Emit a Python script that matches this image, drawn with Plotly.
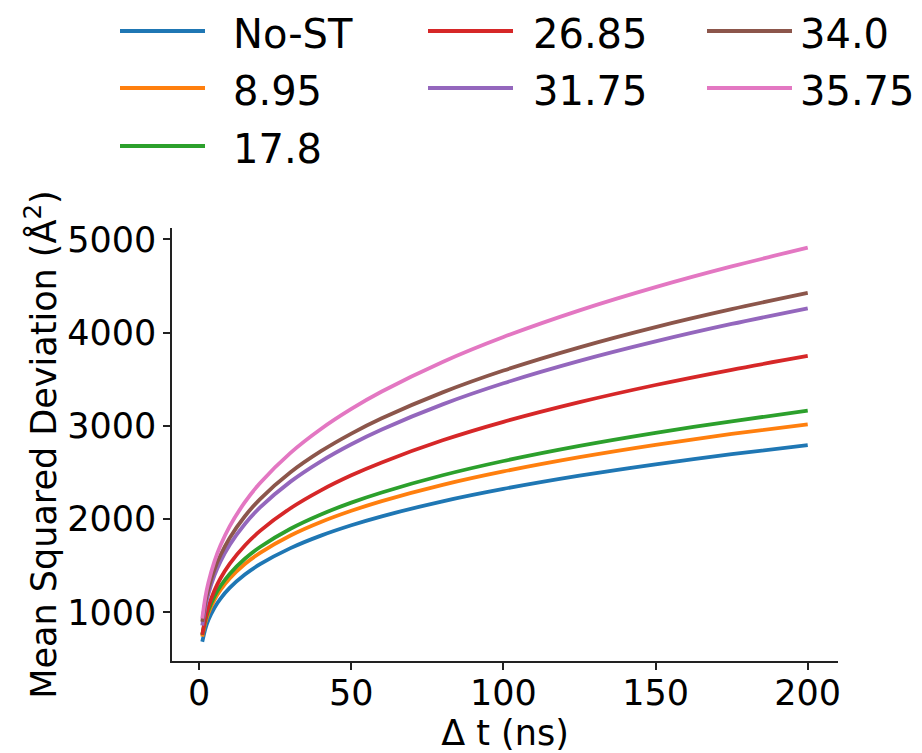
import plotly.graph_objects as go

dt_ns = [1, 2, 3, 5, 7, 10, 15, 20, 30, 40, 50, 60, 80, 100, 125, 150, 175, 200]

msd_no_st = [685, 823, 917, 1050, 1148, 1262, 1405, 1517, 1689, 1823, 1934, 2030, 2191, 2324, 2466, 2588, 2696, 2794]
msd_8_95 = [740, 889, 990, 1134, 1240, 1363, 1518, 1638, 1824, 1969, 2089, 2193, 2367, 2511, 2664, 2796, 2913, 3016]
msd_17_8 = [760, 916, 1021, 1172, 1283, 1412, 1575, 1701, 1897, 2050, 2177, 2286, 2470, 2623, 2785, 2925, 3049, 3162]
msd_26_85 = [760, 936, 1058, 1234, 1366, 1521, 1718, 1874, 2117, 2309, 2470, 2608, 2845, 3043, 3254, 3438, 3601, 3749]
msd_31_75 = [860, 1060, 1198, 1398, 1548, 1724, 1948, 2125, 2402, 2620, 2803, 2961, 3230, 3456, 3696, 3905, 4092, 4260]
msd_34_0 = [900, 1109, 1252, 1460, 1615, 1798, 2031, 2215, 2502, 2728, 2917, 3081, 3359, 3593, 3842, 4059, 4251, 4425]
msd_35_75 = [935, 1162, 1319, 1547, 1719, 1922, 2182, 2388, 2711, 2967, 3182, 3368, 3685, 3952, 4238, 4487, 4709, 4910]

series_names = ["No-ST", "8.95", "17.8", "26.85", "31.75", "34.0", "35.75"]
series_values = [msd_no_st, msd_8_95, msd_17_8, msd_26_85, msd_31_75, msd_34_0, msd_35_75]
colors = ["#1f77b4", "#ff7f0e", "#2ca02c", "#d62728", "#9467bd", "#8c564b", "#e377c2"]
# (column, row) of each entry in the 3-column legend
legend_slots = [(0, 0), (0, 1), (0, 2), (1, 0), (1, 1), (2, 0), (2, 1)]

x_ticks = [0, 50, 100, 150, 200]
y_ticks = [1000, 2000, 3000, 4000, 5000]

FONT = "DejaVu Sans"
OFF = 8  # the page body adds an 8px margin; positions below are page pixels
W, H = 922 - OFF, 753 - OFF
ML, MR, MT, MB = 172 - OFF, 84, 228 - OFF, 92
PW, PH = W - ML - MR, H - MT - MB


def px_x(px):
    return (px - OFF - ML) / PW


def px_y(py):
    return (H - MB - (py - OFF)) / PH


fig = go.Figure()
for name, vals, col in zip(series_names, series_values, colors):
    fig.add_trace(go.Scatter(
        x=dt_ns, y=vals, mode="lines", name=name,
        line=dict(color=col, width=3.8, shape="spline", smoothing=0.8),
        showlegend=False,
    ))

legend_cols = [(120, 205, 231), (428, 513, 531), (707, 792, 798)]
legend_rows = [31, 88, 146]
shapes = []
annotations = []
for name, col, (c, r) in zip(series_names, colors, legend_slots):
    x0, x1, xt = legend_cols[c]
    yy = legend_rows[r]
    shapes.append(dict(type="line", xref="paper", yref="paper",
                       x0=px_x(x0), x1=px_x(x1), y0=px_y(yy), y1=px_y(yy),
                       line=dict(color=col, width=3.8)))
    annotations.append(dict(text=name, xref="paper", yref="paper",
                            x=px_x(xt), y=px_y(yy + 3), xanchor="left", yanchor="middle",
                            showarrow=False, font=dict(family=FONT, size=40, color="black")))

fig.update_layout(
    width=W, height=H,
    paper_bgcolor="white", plot_bgcolor="white",
    margin=dict(l=ML, r=MR, t=MT, b=MB),
    font=dict(family=FONT, size=35, color="black"),
    showlegend=False,
    shapes=shapes,
    annotations=annotations,
    xaxis=dict(
        range=[-8.95, 209.95],
        tickvals=x_ticks,
        ticks="outside", ticklen=7, tickwidth=1.5, tickcolor="#222",
        ticklabelstandoff=-7,
        showline=True, linecolor="#222", linewidth=1.5,
        showgrid=False, zeroline=False, automargin=False,
        tickfont=dict(family=FONT, size=35),
        title=dict(text="Δ t (ns)", font=dict(family=FONT, size=35), standoff=2),
    ),
    yaxis=dict(
        range=[479, 5121],
        tickvals=y_ticks,
        ticks="outside", ticklen=7, tickwidth=1.5, tickcolor="#222",
        showline=True, linecolor="#222", linewidth=1.5,
        showgrid=False, zeroline=False, automargin=False,
        tickfont=dict(family=FONT, size=35),
        title=dict(text="Mean Squared Deviation (Å<sup>2</sup>)", font=dict(family=FONT, size=35), standoff=0),
    ),
)

fig.write_html("out.html")
